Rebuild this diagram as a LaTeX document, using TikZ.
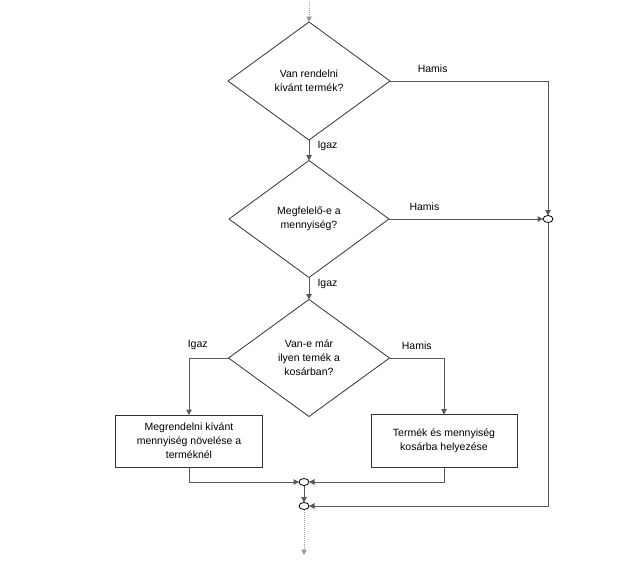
\documentclass[tikz,border=0pt]{standalone}
\usepackage{fontspec}
\setmainfont{Liberation Sans}
\usetikzlibrary{arrows.meta, positioning, shapes.geometric}

\begin{document}
\begin{tikzpicture}[
    x=1pt, y=-1pt,
    font=\fontsize{10.5}{14}\selectfont,
    >= {Triangle[length=5.5pt, width=5.5pt]},
    decision/.style={diamond, draw=black!80, line width=0.8pt, inner sep=0pt, outer sep=0pt, align=center},
    action/.style={rectangle, draw=black!80, line width=0.8pt, inner sep=0pt, outer sep=0pt, align=center},
    junction/.style={ellipse, draw=black, fill=white, line width=0.8pt, minimum width=10pt, minimum height=7pt, inner sep=0pt, outer sep=0pt},
    flow/.style={draw=black!65, line width=1pt},
    loose/.style={draw=black!40, line width=1pt, densely dotted, -{Triangle[length=5.5pt, width=5.5pt]}},
    tag/.style={inner sep=1pt},
    ]

    % fixed page size
    \useasboundingbox (0,0) rectangle (643,563);

    % ==========================================
    % Decisions
    % ==========================================
    \node[decision, minimum width=162pt, minimum height=118pt] (ask-item) at (309,81) {Van rendelni\\kívánt termék?};
    \node[decision, minimum width=160pt, minimum height=117pt] (ask-qty) at (309,219) {Megfelelő-e a\\mennyiség?};
    \node[decision, minimum width=161pt, minimum height=117pt] (ask-cart) at (309,358) {Van-e már\\ilyen temék a\\kosárban?};

    % ==========================================
    % Actions
    % ==========================================
    \node[action, minimum width=147pt, minimum height=52pt] (raise-qty) at (189,441) {Megrendelni kívánt\\mennyiség növelése a\\terméknél};
    \node[action, minimum width=146pt, minimum height=53pt] (put-cart) at (444,441) {Termék és mennyiség\\kosárba helyezése};

    % ==========================================
    % Junctions
    % ==========================================
    \foreach \name/\x/\y in {skip/548/219, merge/304/482, done/304/506}
        \node[junction] (join-\name) at (\x,\y) {};

    \coordinate (flow-in) at (309,2);
    \coordinate (flow-out) at (304,555);

    % ==========================================
    % Connectors
    % ==========================================
    \draw[loose] (flow-in) -- (ask-item.north);
    \draw[flow, ->] (ask-item.south) -- (ask-qty.north) node[tag, pos=0.3, right=7pt] {Igaz};
    \draw[flow, ->] (ask-item.east) -| (join-skip.north) node[tag, pos=0.135, above=7pt] {Hamis};
    \draw[flow, ->] (ask-qty.east) -- (join-skip.west) node[tag, pos=0.23, above=7pt] {Hamis};
    \draw[flow, ->] (ask-qty.south) -- (ask-cart.north) node[tag, pos=0.3, right=7pt] {Igaz};
    \draw[flow, ->] (ask-cart.west) -| (raise-qty.north) node[tag, pos=0.39, above=7pt] {Igaz};
    \draw[flow, ->] (ask-cart.east) -| (put-cart.north) node[tag, pos=0.25, above=7pt] {Hamis};

    \draw[flow, ->] (raise-qty.south) |- (join-merge.west);
    \draw[flow, ->] (put-cart.south) |- (join-merge.east);
    \draw[flow, ->] (join-merge.south) -- (join-done.north);
    \draw[flow, ->] (join-skip.south) |- (join-done.east);
    \draw[loose] (join-done.south) -- (flow-out);

\end{tikzpicture}
\end{document}
